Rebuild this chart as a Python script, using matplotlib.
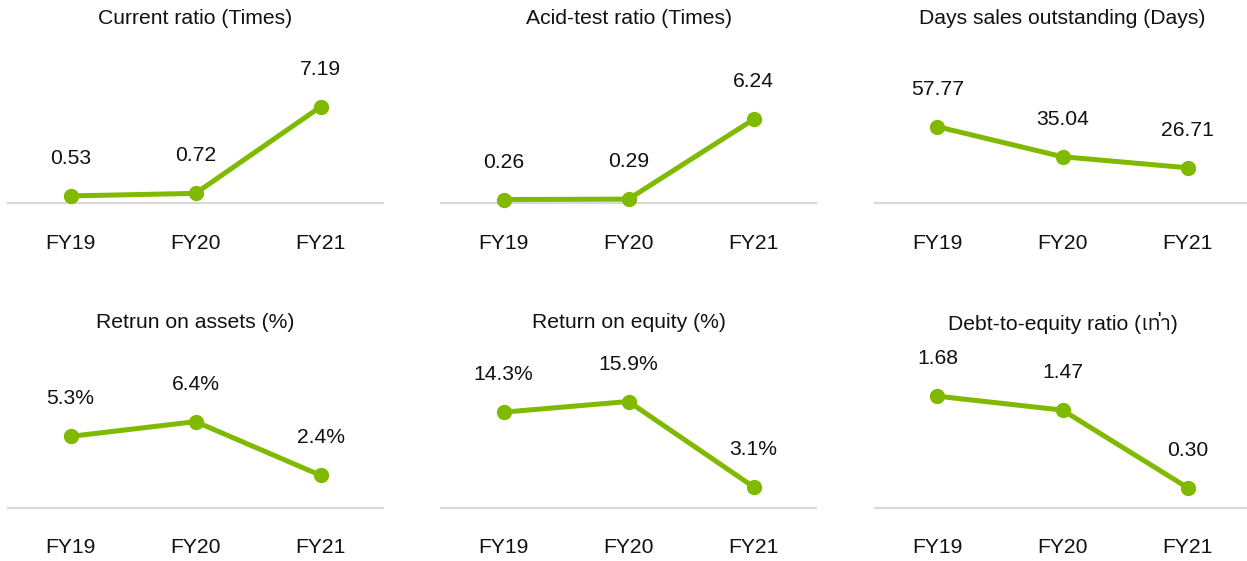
import matplotlib
matplotlib.use("Agg")
import matplotlib.pyplot as plt
from matplotlib import font_manager
from matplotlib.ft2font import FT2Font

# ---- data ----
years = ["FY19", "FY20", "FY21"]
titles = ["Current ratio (Times)", "Acid-test ratio (Times)", "Days sales outstanding (Days)",
          "Retrun on assets (%)", "Return on equity (%)", "Debt-to-equity ratio (เท่า)"]
current_ratio = [0.53, 0.72, 7.19]
acid_test = [0.26, 0.29, 6.24]
days_sales = [57.77, 35.04, 26.71]
roa = [5.3, 6.4, 2.4]
roe = [14.3, 15.9, 3.1]
debt_equity = [1.68, 1.47, 0.30]
value_labels = [
    ["0.53", "0.72", "7.19"],
    ["0.26", "0.29", "6.24"],
    ["57.77", "35.04", "26.71"],
    ["5.3%", "6.4%", "2.4%"],
    ["14.3%", "15.9%", "3.1%"],
    ["1.68", "1.47", "0.30"],
]
series = [current_ratio, acid_test, days_sales, roa, roe, debt_equity]
y_max = [7.93, 7.92, 80.3, 7.9, 15.9, 1.6]

# ---- fonts ----
thai_family = None
for f in font_manager.fontManager.ttflist:
    try:
        cm = FT2Font(f.fname).get_charmap()
        if 0x0E40 in cm and 0x0E17 in cm:
            thai_family = f.name
            if "Sans" in f.name:
                break
    except Exception:
        pass
fams = ["Liberation Sans", "DejaVu Sans"]
if thai_family:
    fams = ["Liberation Sans", thai_family, "DejaVu Sans"]
plt.rcParams["font.family"] = fams

GREEN = "#7FBA00"
GRID = "#D9D9D9"
TXT = "#111111"
FS = 15.2

W, H = 1247, 561
fig = plt.figure(figsize=(W / 100, H / 100), dpi=100)

col_left = [8, 441, 875]
col_width = 375
row_base = [203, 507.5]
ax_h = 106

for i in range(6):
    r, c = divmod(i, 3)
    left = col_left[c] / W
    bottom = (H - row_base[r]) / H
    ax = fig.add_axes([left, bottom, col_width / W, ax_h / H])
    ax.set_xlim(-0.5, 2.5)
    ax.set_ylim(0, y_max[i])
    ax.set_axis_off()
    ax.axhline(0, color=GRID, lw=1.6, zorder=1, clip_on=False)
    xs = list(range(len(years)))
    ax.plot(xs, series[i], color=GREEN, lw=3.6, marker="o", markersize=10,
            solid_capstyle="round", zorder=3, clip_on=False)
    for x, v, lab in zip(xs, series[i], value_labels[i]):
        ax.annotate(lab, (x, v), xytext=(0, 27), textcoords="offset points",
                    ha="center", va="center", fontsize=FS, color=TXT,
                    annotation_clip=False)
    for x, yl in zip(xs, years):
        ax.annotate(yl, (x, 0), xytext=(0, -29), textcoords="offset points",
                    ha="center", va="center", fontsize=FS, color=TXT,
                    annotation_clip=False)
    title_y = [18, 323][r]
    fig.text((col_left[c] + col_width / 2) / W, 1 - title_y / H, titles[i],
             ha="center", va="center", fontsize=FS, color=TXT)

fig.savefig("out.png", dpi=100, facecolor="white")
